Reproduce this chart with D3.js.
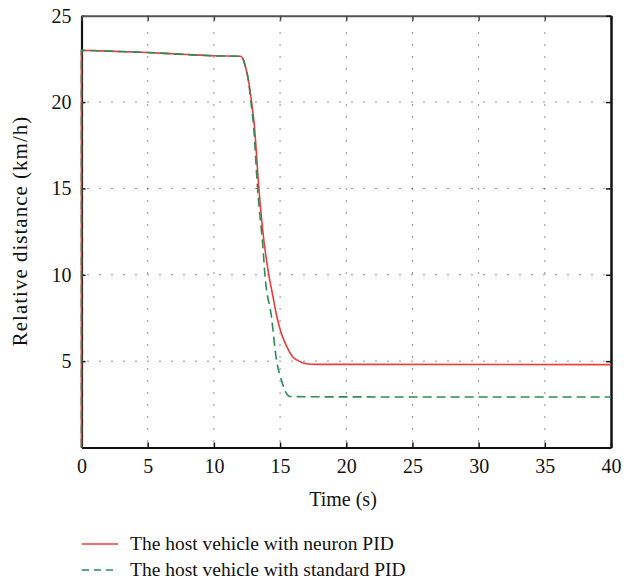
<!DOCTYPE html>
<html><head><meta charset="utf-8">
<script src="https://cdn.jsdelivr.net/npm/d3@7"></script>
<style>body{margin:0;background:#fff}svg{display:block}text{font-family:"Liberation Serif","DejaVu Serif",serif;fill:#111}</style>
</head><body><div id="c"></div>
<script>
const xTicks=[0,5,10,15,20,25,30,35,40];
const yTicks=[5,10,15,20,25];
const neuronT=[0,0,2,5,8,10,12,12.2,12.4,12.6,12.85,13.05,13.4,13.7,14.15,14.45,14.75,15.1,15.5,15.9,16.25,16.7,17.25,20,40];
const neuronV=[0,23,22.95,22.87,22.75,22.68,22.65,22.5,22.0,21.3,20.0,18.7,15.0,12.5,10.0,8.8,7.6,6.6,5.85,5.3,5.07,4.9,4.82,4.81,4.8];
const standardT=[0,0,2,5,8,10,12,12.2,12.4,12.6,12.8,13.0,13.3,13.72,13.85,14.35,14.73,15.1,15.36,15.55,15.75,20,40];
const standardV=[0,23,22.95,22.87,22.75,22.68,22.65,22.5,22.0,21.3,20.0,18.6,15.0,11.44,10.05,7.57,5.07,3.91,3.33,3.05,2.95,2.93,2.92];
const seriesNames=["The host vehicle with neuron PID","The host vehicle with standard PID"];
const colors=["#ee3b3b","#2e8b57"];

const W=633,H=582;
const svg=d3.select("#c").append("svg").attr("width",W).attr("height",H);
const x=d3.scaleLinear().domain([0,40]).range([81.5,611]);
const y=d3.scaleLinear().domain([0,25]).range([447.5,15.7]);

// grid
const g=svg.append("g");
g.selectAll(".gx").data(xTicks.filter(d=>d>0&&d<40)).enter().append("line")
 .attr("x1",d=>x(d)).attr("x2",d=>x(d)).attr("y1",y(0)).attr("y2",y(25))
 .attr("stroke","#222").attr("stroke-width",1).attr("stroke-dasharray","1,11").attr("stroke-dashoffset",-6);
g.selectAll(".gy").data(yTicks.filter(d=>d<25)).enter().append("line")
 .attr("x1",x(0)).attr("x2",x(40)).attr("y1",d=>y(d)).attr("y2",d=>y(d))
 .attr("stroke","#222").attr("stroke-width",1).attr("stroke-dasharray","1,11").attr("stroke-dashoffset",-6);

// axes
const xAxis=d3.axisBottom(x).tickValues(xTicks).tickSizeInner(-5).tickSizeOuter(0).tickPadding(11);
const yAxis=d3.axisLeft(y).tickValues(yTicks).tickSizeInner(-4).tickSizeOuter(0).tickPadding(10);
const ax=svg.append("g").attr("transform",`translate(0,${y(0)})`).call(xAxis);
const ay=svg.append("g").attr("transform",`translate(${x(0)},0)`).call(yAxis);
[ax,ay].forEach(a=>{a.select(".domain").attr("stroke","#111").attr("stroke-width",2.2);
 a.selectAll(".tick line").attr("stroke","#111").attr("stroke-width",1.5);
 a.selectAll("text").attr("font-size",20).attr("fill","#111").attr("font-family","Liberation Serif");});
// top and right axes
const axT=svg.append("g").attr("transform",`translate(0,${y(25)})`).call(d3.axisTop(x).tickValues(xTicks).tickSizeInner(-5).tickSizeOuter(0).tickFormat(""));
axT.select(".domain").attr("stroke","#555").attr("stroke-width",2);
axT.selectAll(".tick line").attr("stroke","#444").attr("stroke-width",1.5);
const axR=svg.append("g").attr("transform",`translate(${x(40)},0)`).call(d3.axisRight(y).tickValues(yTicks).tickSizeInner(-5).tickSizeOuter(0).tickFormat(""));
axR.select(".domain").attr("stroke","#111").attr("stroke-width",2.5);
axR.selectAll(".tick line").attr("stroke","#111").attr("stroke-width",1.5);

// lines
const line=d3.line().x(d=>x(d[0])).y(d=>y(d[1])).curve(d3.curveMonotoneX);
const lineRaw=d3.line().x(d=>x(d[0])).y(d=>y(d[1]));
const sets=[[neuronT,neuronV],[standardT,standardV]];
sets.forEach(([T,V],i)=>{
  const pts=T.map((t,k)=>[t,V[k]]);
  const p=svg.append("path").attr("fill","none").attr("stroke",colors[i]).attr("stroke-width",1.6)
   .attr("d",lineRaw(pts.slice(0,2))+line(pts.slice(1)).replace(/^M/,"L"));
  if(i===1)p.attr("stroke-dasharray","9,5");
});

// axis titles
svg.append("text").attr("x",343).attr("y",506).attr("text-anchor","middle").attr("font-size",20).text("Time (s)");
svg.append("text").attr("transform","translate(27,231) rotate(-90)").attr("text-anchor","middle").attr("font-size",21).attr("letter-spacing",1).text("Relative distance (km/h)");

// legend
seriesNames.forEach((n,i)=>{
  const yy=544+i*26;
  const l=svg.append("line").attr("x1",82).attr("x2",118).attr("y1",yy).attr("y2",yy).attr("stroke",colors[i]).attr("stroke-width",1.6);
  if(i===1)l.attr("stroke-dasharray","7,5");
  svg.append("text").attr("x",130).attr("y",yy+5.5).attr("font-size",19.5).text(n);
});
</script></body></html>
